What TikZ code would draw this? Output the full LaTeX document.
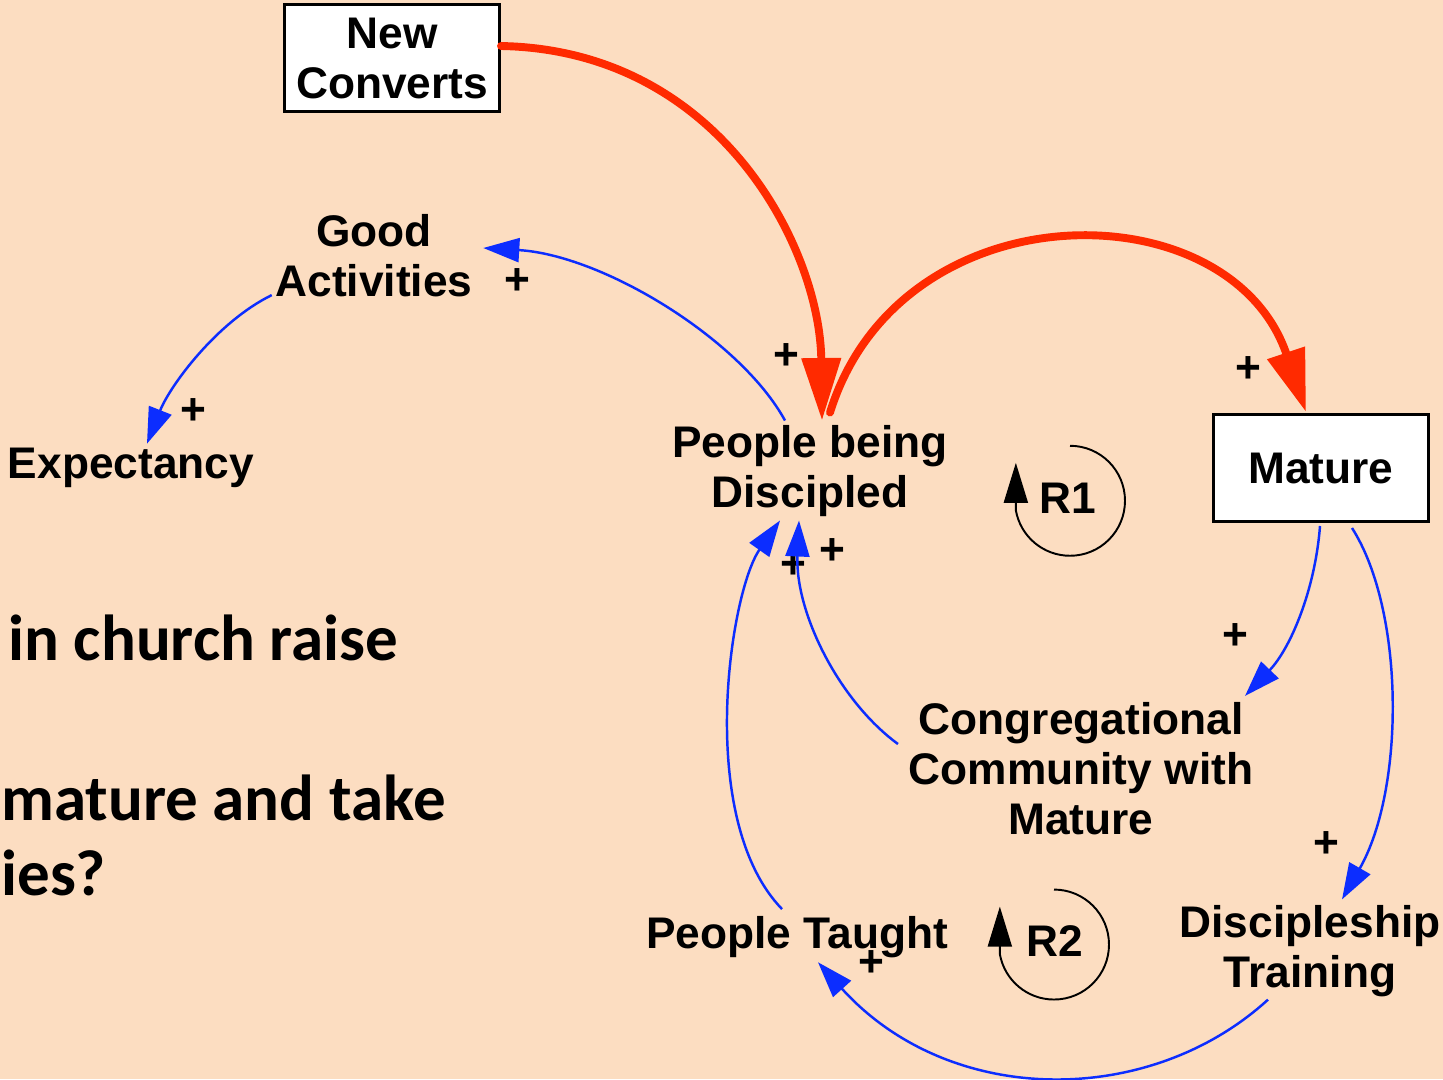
\documentclass[tikz,border=0pt]{standalone}
\usepackage{fontspec}
\setmainfont{Liberation Sans}
\newfontfamily\slidefont{Carlito}
\usetikzlibrary{arrows.meta,calc}
\definecolor{peach}{RGB}{252,221,193}
\definecolor{linkblue}{RGB}{12,45,255}
\definecolor{flowred}{RGB}{255,42,0}
\tikzset{
  var/.style={font=\fontsize{25.2}{28.45}\selectfont\bfseries,align=center,inner sep=2pt},
  stock/.style={var,draw,fill=white,line width=1.7pt,minimum width=4.3cm,minimum height=2.14cm},
  pol/.style={font=\fontsize{25.2}{28.45}\selectfont\bfseries,inner sep=0pt},
  slide/.style={font=\slidefont\fontsize{37}{44}\selectfont\bfseries,inner sep=0pt,anchor=base west},
  link/.style={draw=linkblue,line width=1.4pt,-{Triangle[length=0.72cm,width=0.48cm]}},
  flow/.style={draw=flowred,line width=4.5pt,line cap=round,-{Triangle[length=1.25cm,width=0.76cm]}},
  loopline/.style={line width=1.1pt,-{Triangle[length=0.8cm,width=0.48cm]}}
}
\begin{document}
\begin{tikzpicture}[x=0.02cm,y=-0.02cm]
\fill[peach] (0,0) rectangle (1443,1079);
\useasboundingbox (0,0) rectangle (1443,1079);
% slide text behind the diagram
\node[slide] (q1) at (8,660) {in church raise};
\node[slide] (q2) at (1,820) {mature and take};
\node[slide] (q3) at (1,895) {ies?};
% variables
\node[stock] (nc) at (392,58) {New\\Converts};
\node[stock] (mat) at (1321,468) {Mature};
\node[var] (ga) at (374,256) {Good\\Activities};
\node[var,anchor=base] (exp) at (131,478) {Expectancy};
\node[var] (pbd) at (810,471) {People being\\Discipled};
\node[var] (cong) at (1081,769) {Congregational\\Community with\\Mature};
\node[var] (dt) at (1310,951) {Discipleship\\Training};
\node[var,anchor=base] (pt) at (797,948) {People Taught};
\node[var,anchor=base] (r1) at (1068,513) {R1};
\node[var,anchor=base] (r2) at (1055,956) {R2};
% polarities
\node[pol] (s1) at (786,357) {+};
\node[pol] (s2) at (1248,370) {+};
\node[pol] (s3) at (517,282) {+};
\node[pol] (s4) at (193,412) {+};
\node[pol] (s5) at (1235,637) {+};
\node[pol] (s6) at (1326,845) {+};
\node[pol] (s7) at (871,963) {+};
\node[pol] (s8) at (793,566) {+};
\node[pol] (s9) at (832,552) {+};
% flows
\draw[flow] ($(nc.east)+(0,-12)$) .. controls +(219,4) and +(-2,-172) .. ($(pbd.north)+(12,-1)$);
\draw[flow] ($(pbd.north)+(20,-9)$) .. controls +(70,-226) and +(-76,-225) .. ($(mat.north)+(-15,-1)$);
% links
\draw[link] ($(pbd.north)+(-25,-1)$) .. controls +(-45,-82) and +(119,7) .. ($(ga.east)+(7,-8)$);
\draw[link] ($(ga.south west)+(0,-6)$) .. controls +(-55,27) and +(23,-58) .. ($(exp.north)+(16,0)$);
\draw[link] ($(mat.south)+(-1,3)$) .. controls +(-5,65) and +(45,-47) .. ($(cong.north east)+(-12,-3)$);
\draw[link] ($(mat.south)+(31,5)$) .. controls +(53,83) and +(63,-110) .. ($(dt.north)+(32,-2)$);
\draw[link] ($(dt.south)+(-42,-1)$) .. controls +(-118,108) and +(132,146) .. ($(pt.south)+(21,1)$);
\draw[link] ($(pt.north)+(-15,-3)$) .. controls +(-87,-90) and +(-50,71) .. ($(pbd.south)+(-30,0)$);
\draw[link] ($(cong.west)+(-7,-25)$) .. controls +(-60,-44) and +(-4,91) .. ($(pbd.south)+(-11,0)$);
% loops
\draw[loopline] ($(r1)+(2,-52)$) arc[start angle=90,end angle=-170,radius=1.1cm] -- ++(0,0.95cm);
\draw[loopline] ($(r2)+(-1,-51)$) arc[start angle=90,end angle=-170,radius=1.1cm] -- ++(0,0.95cm);
\end{tikzpicture}
\end{document}
